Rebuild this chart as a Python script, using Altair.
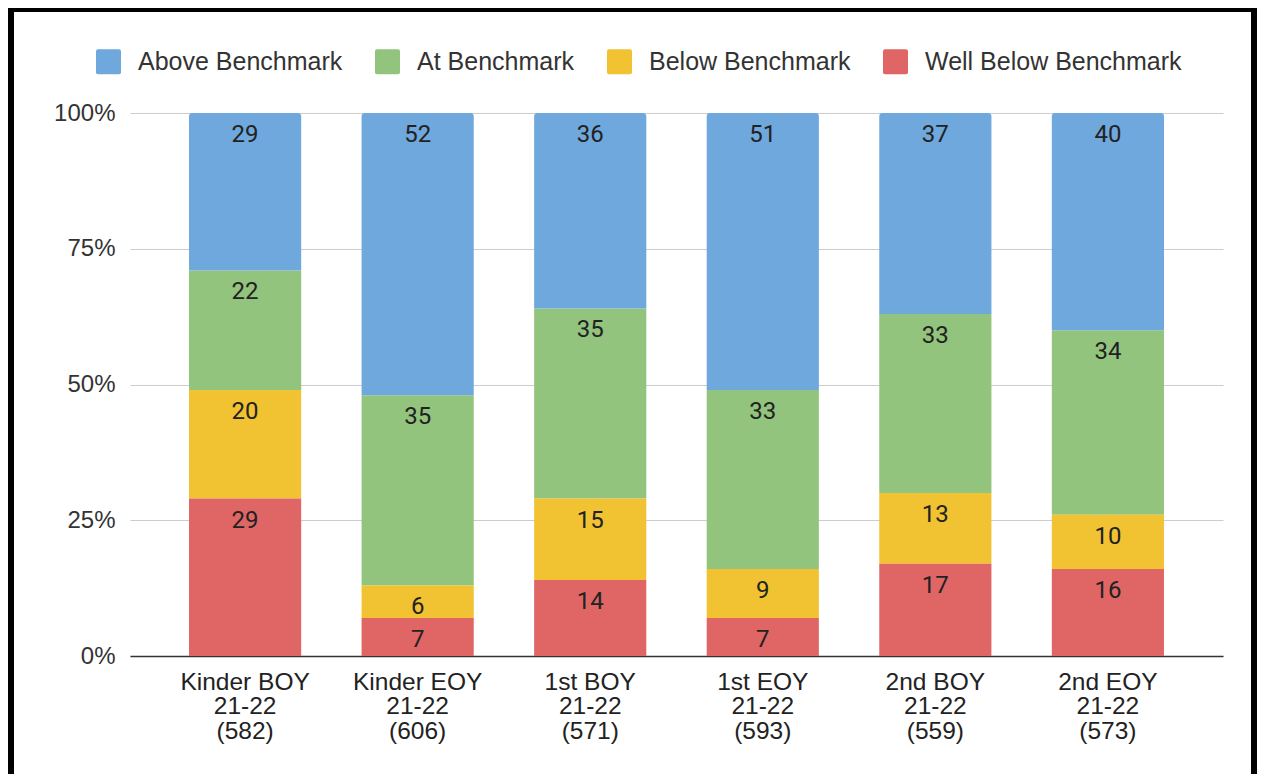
import altair as alt
import pandas as pd

categories = ["Kinder BOY|21-22|(582)", "Kinder EOY|21-22|(606)", "1st BOY|21-22|(571)",
              "1st EOY|21-22|(593)", "2nd BOY|21-22|(559)", "2nd EOY|21-22|(573)"]
series = ["Above Benchmark", "At Benchmark", "Below Benchmark", "Well Below Benchmark"]
colors = ["#6fa8dc", "#93c47d", "#f1c232", "#e06666"]
above = [29, 52, 36, 51, 37, 40]
at = [22, 35, 35, 33, 33, 34]
below = [20, 6, 15, 9, 13, 10]
well_below = [29, 7, 14, 7, 17, 16]
y_ticks = [0, 25, 50, 75, 100]

rows = []
for s_i, (name, vals) in enumerate(zip(series, [above, at, below, well_below])):
    for c, v in zip(categories, vals):
        rows.append({"cat": c, "series": name, "value": v, "stack_order": len(series) - 1 - s_i})
df = pd.DataFrame(rows)

base = alt.Chart(df).transform_stack(
    stack="value", groupby=["cat"], as_=["y0", "y1"],
    sort=[alt.SortField("stack_order", order="ascending")]
)

x_axis = alt.Axis(labelExpr="split(datum.label, '|')", labelAngle=0, labelFont="Liberation Sans",
                  labelFontSize=24.5, labelColor="#222", labelLineHeight=24.5, labelPadding=14,
                  labelBaseline="top", ticks=False, tickSize=0, domainColor="#333",
                  domainWidth=1.5, grid=False, title=None, labelLimit=400)
x = alt.X("cat:N", sort=categories, title=None,
          scale=alt.Scale(paddingInner=0.35, paddingOuter=0.342), axis=x_axis)
y_scale = alt.Scale(domain=[0, 100], nice=False)
y_axis = alt.Axis(values=y_ticks, labelExpr="datum.value + '%'", labelFont="Liberation Sans",
                  labelFontSize=24, labelColor="#333", labelPadding=15, domain=False,
                  ticks=False, tickSize=0, gridColor="#cccccc", gridWidth=1, title=None)

legend_path = ("M-0.84,-1H0.84Q1,-1 1,-0.84V0.84Q1,1 0.84,1H-0.84Q-1,1 -1,0.84"
               "V-0.84Q-1,-1 -0.84,-1Z")
color = alt.Color("series:N", scale=alt.Scale(domain=series, range=colors),
                  legend=alt.Legend(orient="none", legendX=-34, legendY=-64,
                                    direction="horizontal", columns=4, title=None,
                                    symbolType=legend_path, symbolSize=625,
                                    symbolStrokeWidth=0, symbolOpacity=1,
                                    labelFont="Liberation Sans", labelFontSize=25,
                                    labelColor="#333", labelOffset=17, columnPadding=32,
                                    labelLimit=600, padding=0))

bars_lower = base.transform_filter(alt.datum.series != "Above Benchmark").mark_bar().encode(
    x=x, y=alt.Y("y0:Q", scale=y_scale, axis=y_axis), y2="y1:Q", color=color
)
bars_top = base.transform_filter(alt.datum.series == "Above Benchmark").mark_bar(
    cornerRadiusTopLeft=3, cornerRadiusTopRight=3
).encode(
    x=x, y=alt.Y("y0:Q", scale=y_scale), y2="y1:Q", color=color
)
labels = base.mark_text(baseline="middle", dy=22, font="Roboto", fontSize=24, color="#222").encode(
    x=x, y=alt.Y("y1:Q", scale=y_scale), text="value:Q"
)

frame_df = pd.DataFrame({"k": [0]})
frame = alt.Chart(frame_df)
left_rule = frame.mark_rule(color="black", strokeWidth=6).encode(
    x=alt.value(-119), y=alt.value(-110), y2=alt.value(700))
top_rule = frame.mark_rule(color="black", strokeWidth=6).encode(
    x=alt.value(-125), x2=alt.value(1130), y=alt.value(-104))
right_rule = frame.mark_rule(color="black", strokeWidth=6).encode(
    x=alt.value(1124), y=alt.value(-110), y2=alt.value(700))

chart = alt.layer(bars_lower, bars_top, labels, left_rule, top_rule, right_rule).properties(
    width=1093, height=543,
    autosize=alt.AutoSizeParams(type="none"),
    padding={"left": 122, "top": 105, "right": 34, "bottom": 118},
    background="white",
).configure_view(stroke=None)

chart.save("out.html", embed_options={"renderer": "svg", "actions": False})
